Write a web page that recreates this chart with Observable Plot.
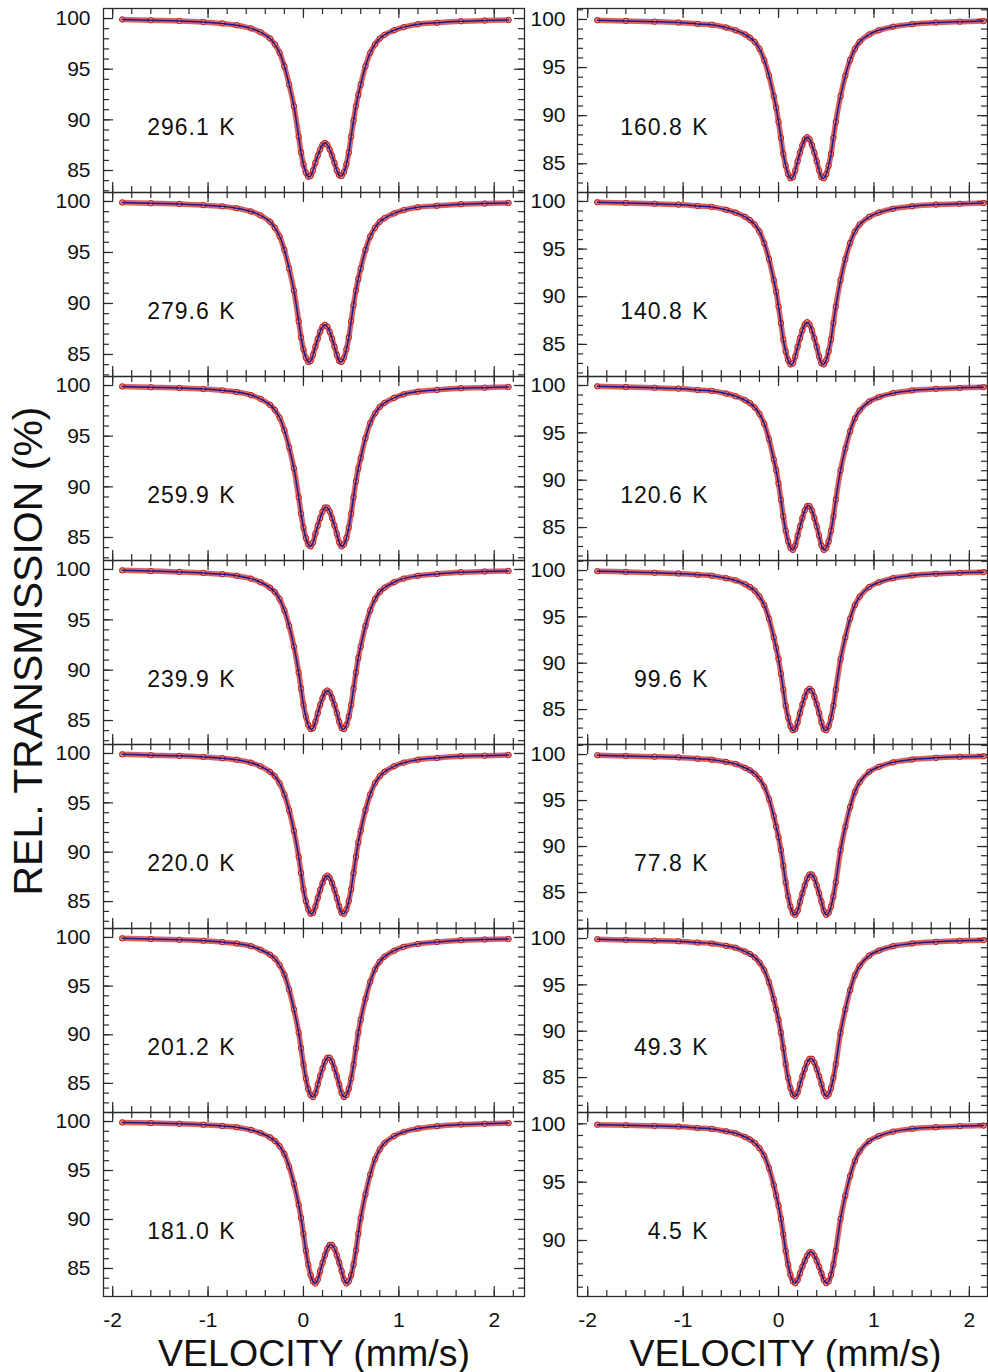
<!DOCTYPE html>
<html>
<head>
<meta charset="utf-8">
<script src="https://cdn.jsdelivr.net/npm/d3@7"></script>
<script src="https://cdn.jsdelivr.net/npm/@observablehq/plot@0.6"></script>
<style>
  html, body { margin: 0; padding: 0; background: #fff; }
  #fig { position: relative; width: 988px; height: 1372px; background: #fff; font-family: "Liberation Sans", Arial, sans-serif; }
  .panel { position: absolute; }
  .panel svg { overflow: visible; background: transparent; }
  .ytitle { position: absolute; left: 28px; top: 651px; transform: translate(-50%, -50%) rotate(-90deg);
            font-size: 41px; line-height: 1; white-space: nowrap; color: #111; }
</style>
</head>
<body>
<div id="fig"><div class="ytitle">REL. TRANSMISSION (%)</div></div>
<script>
// Source velocities (mm/s), shared by every spectrum
const velocity = [-1.9, -1.6, -1.3, -1.05, -0.85, -0.7, -0.55, -0.45, -0.35, -0.3, -0.25, -0.2, -0.15, -0.1, -0.05,
  -0.025, 0, 0.025, 0.05, 0.075, 0.1, 0.125, 0.15, 0.175, 0.2, 0.225, 0.25, 0.275, 0.3, 0.325, 0.35, 0.375, 0.4,
  0.425, 0.45, 0.475, 0.5, 0.525, 0.55, 0.575, 0.6, 0.65, 0.7, 0.75, 0.8, 0.85, 0.95, 1.05, 1.2, 1.4, 1.65, 1.9, 2.15];

// Relative transmission (%) at each velocity, one array per temperature
const t296_1 = [99.91, 99.83, 99.76, 99.65, 99.52, 99.34, 99.03, 98.65, 98.03, 97.45, 96.62, 95.29, 93.47, 91.34, 88.35, 86.77, 85.62, 84.79, 84.39, 84.46, 85.01, 85.76, 86.47, 87.08, 87.55, 87.72, 87.55, 87.08, 86.47, 85.76, 85.01, 84.52, 84.47, 84.85, 85.62, 86.77, 88.35, 89.92, 91.34, 92.47, 93.47, 95.29, 96.62, 97.45, 98.03, 98.39, 98.84, 99.15, 99.44, 99.59, 99.73, 99.80, 99.86];
const t279_6 = [99.91, 99.83, 99.76, 99.64, 99.52, 99.34, 99.02, 98.64, 98.01, 97.43, 96.59, 95.25, 93.42, 91.27, 88.26, 86.67, 85.51, 84.68, 84.27, 84.35, 84.96, 85.77, 86.54, 87.22, 87.73, 87.91, 87.73, 87.22, 86.54, 85.77, 84.96, 84.35, 84.27, 84.68, 85.51, 86.67, 88.26, 89.84, 91.27, 92.41, 93.42, 95.25, 96.59, 97.43, 98.01, 98.37, 98.83, 99.15, 99.43, 99.58, 99.73, 99.79, 99.86];
const t259_9 = [99.91, 99.83, 99.76, 99.65, 99.52, 99.36, 99.06, 98.68, 98.09, 97.59, 96.82, 95.59, 93.90, 91.82, 88.98, 87.34, 85.98, 84.95, 84.31, 84.12, 84.50, 85.36, 86.17, 86.91, 87.57, 87.95, 87.95, 87.57, 86.91, 86.17, 85.36, 84.50, 84.12, 84.31, 84.95, 85.98, 87.34, 88.98, 90.54, 91.82, 92.85, 94.81, 96.30, 97.25, 97.89, 98.28, 98.78, 99.13, 99.40, 99.57, 99.73, 99.79, 99.86];
const t239_9 = [99.91, 99.84, 99.76, 99.66, 99.53, 99.38, 99.09, 98.73, 98.19, 97.76, 97.06, 95.95, 94.39, 92.35, 89.76, 88.17, 86.56, 85.40, 84.56, 84.15, 84.24, 84.88, 85.73, 86.55, 87.24, 87.79, 87.98, 87.79, 87.24, 86.55, 85.73, 84.88, 84.24, 84.15, 84.56, 85.40, 86.56, 88.17, 89.76, 91.21, 92.35, 94.39, 95.95, 97.06, 97.76, 98.19, 98.73, 99.09, 99.38, 99.56, 99.72, 99.79, 99.85];
const t220_0 = [99.91, 99.83, 99.76, 99.65, 99.52, 99.37, 99.07, 98.70, 98.14, 97.70, 96.99, 95.85, 94.25, 92.17, 89.52, 87.89, 86.24, 85.05, 84.19, 83.77, 83.85, 84.50, 85.36, 86.18, 86.88, 87.43, 87.63, 87.43, 86.88, 86.18, 85.36, 84.50, 83.85, 83.77, 84.19, 85.05, 86.24, 87.89, 89.52, 91.00, 92.17, 94.25, 95.85, 96.99, 97.70, 98.14, 98.70, 99.07, 99.37, 99.55, 99.72, 99.78, 99.85];
const t201_2 = [99.91, 99.84, 99.76, 99.66, 99.52, 99.38, 99.10, 98.74, 98.23, 97.82, 97.16, 96.18, 94.63, 92.62, 90.22, 88.61, 86.92, 85.51, 84.44, 83.79, 83.59, 84.00, 84.90, 85.76, 86.54, 87.24, 87.64, 87.64, 87.24, 86.54, 85.76, 84.90, 84.00, 83.59, 83.79, 84.44, 85.51, 86.92, 88.61, 90.22, 91.55, 93.70, 95.44, 96.72, 97.51, 98.03, 98.64, 99.03, 99.34, 99.54, 99.71, 99.78, 99.84];
const t181_0 = [99.91, 99.84, 99.77, 99.67, 99.54, 99.42, 99.14, 98.83, 98.38, 98.02, 97.49, 96.69, 95.40, 93.65, 91.49, 90.15, 88.53, 86.83, 85.40, 84.33, 83.67, 83.47, 83.87, 84.74, 85.59, 86.34, 87.02, 87.40, 87.40, 87.02, 86.34, 85.59, 84.74, 83.87, 83.47, 83.67, 84.33, 85.40, 86.83, 88.53, 90.15, 92.56, 94.59, 96.15, 97.14, 97.80, 98.51, 98.93, 99.28, 99.52, 99.69, 99.77, 99.84];
const t160_8 = [99.92, 99.85, 99.77, 99.68, 99.54, 99.45, 99.16, 98.87, 98.44, 98.11, 97.67, 96.94, 95.78, 94.15, 92.03, 90.84, 89.34, 87.68, 86.01, 84.80, 83.92, 83.49, 83.59, 84.30, 85.26, 86.16, 86.94, 87.55, 87.76, 87.55, 86.94, 86.16, 85.26, 84.30, 83.59, 83.49, 83.92, 84.80, 86.01, 87.68, 89.34, 92.03, 94.15, 95.78, 96.94, 97.67, 98.44, 98.87, 99.25, 99.51, 99.68, 99.77, 99.83];
const t140_8 = [99.91, 99.84, 99.76, 99.67, 99.53, 99.43, 99.13, 98.83, 98.39, 98.04, 97.58, 96.83, 95.63, 93.95, 91.75, 90.52, 88.96, 87.24, 85.51, 84.26, 83.35, 82.90, 83.00, 83.74, 84.74, 85.66, 86.47, 87.10, 87.33, 87.10, 86.47, 85.66, 84.74, 83.74, 83.00, 82.90, 83.35, 84.26, 85.51, 87.24, 88.96, 91.75, 93.95, 95.63, 96.83, 97.58, 98.39, 98.83, 99.23, 99.49, 99.67, 99.76, 99.83];
const t120_6 = [99.91, 99.84, 99.76, 99.67, 99.53, 99.43, 99.15, 98.87, 98.44, 98.13, 97.69, 97.00, 95.96, 94.32, 92.19, 91.06, 89.65, 87.95, 86.16, 84.67, 83.54, 82.85, 82.64, 83.11, 84.14, 85.12, 86.01, 86.81, 87.27, 87.27, 86.81, 86.01, 85.12, 84.14, 83.11, 82.64, 82.85, 83.54, 84.67, 86.16, 87.95, 91.06, 93.33, 95.17, 96.53, 97.36, 98.30, 98.77, 99.19, 99.48, 99.65, 99.75, 99.82];
const t99_6 = [99.92, 99.85, 99.76, 99.68, 99.54, 99.44, 99.17, 98.93, 98.51, 98.22, 97.82, 97.18, 96.27, 94.80, 92.79, 91.69, 90.44, 88.87, 87.14, 85.40, 84.14, 83.22, 82.77, 82.88, 83.62, 84.62, 85.57, 86.38, 87.02, 87.25, 87.02, 86.38, 85.57, 84.62, 83.62, 82.88, 82.77, 83.22, 84.14, 85.40, 87.14, 90.44, 92.79, 94.80, 96.27, 97.18, 98.22, 98.72, 99.17, 99.47, 99.65, 99.75, 99.82];
const t77_8 = [99.92, 99.85, 99.77, 99.69, 99.55, 99.44, 99.19, 98.97, 98.55, 98.29, 97.91, 97.35, 96.51, 95.15, 93.31, 92.16, 91.02, 89.61, 87.90, 86.11, 84.61, 83.48, 82.78, 82.57, 83.01, 83.99, 84.92, 85.77, 86.53, 86.96, 86.96, 86.53, 85.77, 84.92, 83.99, 83.01, 82.57, 82.78, 83.48, 84.61, 86.11, 89.61, 92.16, 94.30, 95.94, 96.98, 98.12, 98.66, 99.15, 99.46, 99.64, 99.75, 99.81];
const t49_3 = [99.92, 99.85, 99.77, 99.70, 99.56, 99.46, 99.21, 99.00, 98.59, 98.33, 97.96, 97.41, 96.59, 95.27, 93.46, 92.34, 91.23, 89.85, 88.18, 86.43, 84.96, 83.86, 83.17, 82.97, 83.38, 84.28, 85.15, 85.92, 86.62, 87.02, 87.02, 86.62, 85.92, 85.15, 84.28, 83.38, 82.97, 83.17, 83.86, 84.96, 86.43, 89.85, 92.34, 94.43, 96.03, 97.05, 98.16, 98.69, 99.17, 99.47, 99.64, 99.75, 99.82];
const t4_5 = [99.93, 99.88, 99.82, 99.76, 99.64, 99.56, 99.36, 99.19, 98.87, 98.66, 98.36, 97.92, 97.27, 96.20, 94.75, 93.85, 92.97, 91.86, 90.52, 89.11, 87.94, 87.05, 86.50, 86.34, 86.61, 87.19, 87.75, 88.26, 88.71, 88.98, 88.98, 88.71, 88.26, 87.75, 87.19, 86.61, 86.34, 86.50, 87.05, 87.94, 89.11, 91.86, 93.85, 95.53, 96.82, 97.64, 98.52, 98.95, 99.33, 99.58, 99.71, 99.80, 99.85];

// Panel order: left column top to bottom, then right column top to bottom
const temperatures = ["296.1 K", "279.6 K", "259.9 K", "239.9 K", "220.0 K", "201.2 K", "181.0 K",
                      "160.8 K", "140.8 K", "120.6 K", "99.6 K", "77.8 K", "49.3 K", "4.5 K"];
const spectra = [t296_1, t279_6, t259_9, t239_9, t220_0, t201_2, t181_0,
                 t160_8, t140_8, t120_6, t99_6, t77_8, t49_3, t4_5];

// Vertical axis range of each panel (%)
const yLow  = [82.83, 82.84, 82.73, 82.62, 82.27, 82.01, 82.14, 82.01, 81.63, 81.52, 81.23, 81.09, 81.23, 85.20];
const yHigh = [100.99, 100.88, 100.89, 100.89, 100.91, 100.92, 100.92, 101.14, 100.94, 100.95, 101.08, 101.09, 101.08, 100.97];

// Tick labels
const yTickValues = [85, 90, 95, 100];
const xTickValues = [-2, -1, 0, 1, 2];
const xTickLabels = ["-2", "-1", "0", "1", "2"];
const xTitle = "VELOCITY (mm/s)";

const FONT = "'Liberation Sans', Arial, sans-serif";
const INK = "#2a2a2a";
const fig = document.getElementById("fig");

function drawPanel(i) {
  const col = i < 7 ? 0 : 1;
  const row = i % 7;
  const W = col ? 410 : 421;
  const H = 184;
  const left = col ? 577 : 103;
  const top = 8 + H * row;
  const xDomain = col ? [-2.107, 2.19] : [-2.096, 2.317];
  const yDomain = [yLow[i], yHigh[i]];
  const rows = velocity.map((v, k) => ({v, t: spectra[i][k]}));

  const yMinor = d3.range(Math.ceil(yDomain[0]), Math.floor(yDomain[1]) + 1);
  const yMajor = yMinor.filter(d => d % 5 === 0);
  const xMinor = d3.range(-20, 23, 2).map(d => d / 10).filter(d => d >= xDomain[0] && d <= xDomain[1]);
  const xMajor = xMinor.filter(d => Number.isInteger(d));
  const yLabels = yTickValues.filter(d => d >= yDomain[0] && d <= yDomain[1]);

  const tick = {stroke: INK, strokeWidth: 1.2};
  const marks = [
    // tick marks on all four sides, pointing inward
    Plot.tickY(yMinor, {y: d => d, insetRight: W - 6, ...tick}),
    Plot.tickY(yMajor, {y: d => d, insetRight: W - 10, ...tick}),
    Plot.tickY(yMinor, {y: d => d, insetLeft: W - 6, ...tick}),
    Plot.tickY(yMajor, {y: d => d, insetLeft: W - 10, ...tick}),
    Plot.tickX(xMinor, {x: d => d, insetTop: H - 6, ...tick}),
    Plot.tickX(xMajor, {x: d => d, insetTop: H - 10, ...tick}),
    Plot.tickX(xMinor, {x: d => d, insetBottom: H - 6, ...tick}),
    Plot.tickX(xMajor, {x: d => d, insetBottom: H - 10, ...tick}),
    // measured points
    Plot.line(rows, {x: "v", y: "t", curve: "catmull-rom", stroke: "#cc2020", strokeWidth: 5.5, strokeOpacity: 0.7}),
    Plot.dot(rows, {x: "v", y: "t", r: 2.7, stroke: "#b81818", strokeWidth: 1, fill: "#f2a3a3", fillOpacity: 0.6}),
    // fitted curve
    Plot.line(rows, {x: "v", y: "t", curve: "catmull-rom", stroke: "#1c1c8c", strokeWidth: 1.5}),
    Plot.frame({stroke: INK, strokeWidth: 1.3}),
    // y tick labels
    Plot.text(yLabels, {y: d => d, frameAnchor: "left", dx: col ? -12 : -13, textAnchor: "end", lineAnchor: "middle",
                        fontSize: 21, fontFamily: FONT, fill: "#111"}),
    // temperature label
    Plot.text([temperatures[i]], {frameAnchor: "top-left", dx: col ? 131 : 132, dy: 119, textAnchor: "end",
                                  lineAnchor: "middle", fontSize: 23, fontFamily: FONT, fill: "#111"})
  ];

  if (row === 6) {
    marks.push(
      Plot.text(xTickValues, {x: d => d, text: (d, k) => xTickLabels[k], frameAnchor: "bottom", dy: 24,
                              lineAnchor: "middle", fontSize: 21, fontFamily: FONT, fill: "#111"}),
      Plot.text([xTitle], {frameAnchor: "bottom", dx: col ? 3 : 0, dy: 57, lineAnchor: "middle",
                           fontSize: 37.5, fontFamily: FONT, fill: "#111"})
    );
  }

  const svg = Plot.plot({
    width: W, height: H,
    marginTop: 0, marginRight: 0, marginBottom: 0, marginLeft: 0,
    x: {domain: xDomain, axis: null},
    y: {domain: yDomain, axis: null},
    style: `overflow: visible; background: transparent; font-family: ${FONT};`,
    marks
  });
  // slightly wider spacing for the temperature label
  d3.select(svg).selectAll("text")
    .filter(function() { return this.textContent === temperatures[i]; })
    .attr("letter-spacing", "1px")
    .attr("word-spacing", "2px");

  const holder = document.createElement("div");
  holder.className = "panel";
  holder.style.left = left + "px";
  holder.style.top = top + "px";
  holder.appendChild(svg);
  fig.appendChild(holder);
}

for (let i = 0; i < spectra.length; ++i) drawPanel(i);
</script>
</body>
</html>
